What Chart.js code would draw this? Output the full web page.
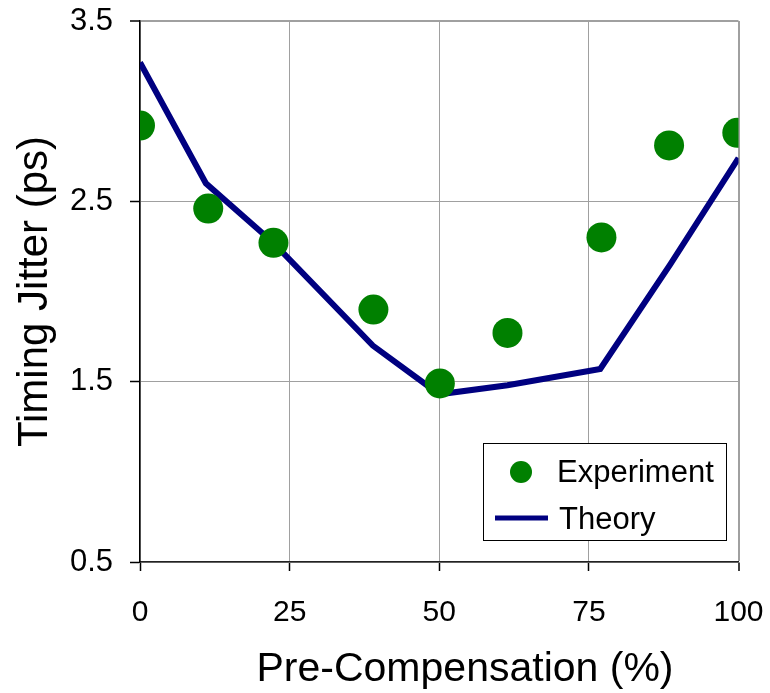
<!DOCTYPE html>
<html>
<head>
<meta charset="utf-8">
<script src="https://cdn.jsdelivr.net/npm/chart.js@4/dist/chart.umd.min.js"></script>
<style>
  html, body { margin: 0; padding: 0; background: #fff; }
  #wrap { width: 770px; height: 693px; }
</style>
</head>
<body>
<div id="wrap"><canvas id="jitterChart" width="770" height="693"></canvas></div>
<script>
// values
const precompExp = [0, 11.4, 22.3, 39.0, 50.1, 61.4, 77.1, 88.4, 99.8];
const jitterExp = [2.92, 2.46, 2.27, 1.90, 1.49, 1.77, 2.30, 2.81, 2.88];
const precompTheory = [0, 11.0, 22.3, 38.9, 50.0, 61.4, 76.9, 88.6, 100];
const jitterTheory = [3.27, 2.60, 2.27, 1.70, 1.43, 1.48, 1.57, 2.15, 2.74];
const xTicks = [0, 25, 50, 75, 100];
const yTicks = [0.5, 1.5, 2.5, 3.5];
const seriesNames = ["Experiment", "Theory"];

const FONT = "'Liberation Sans', Arial, sans-serif";

function toPoints(xs, ys) {
    return xs.map((x, i) => ({ x: x, y: ys[i] }));
}

// no extra room for overflowing tick labels, layout padding decides the plot box
function noOverflow(scale) {
    scale.paddingTop = 0;
    scale.paddingBottom = 0;
    scale.paddingLeft = 0;
    scale.paddingRight = 0;
}

// boxed legend inside the plot, lower right
const boxLegend = {
    id: "boxLegend",
    afterDatasetsDraw(chart) {
        const ctx = chart.ctx;
        const ds = chart.data.datasets;
        ctx.save();
        ctx.fillStyle = "#fff";
        ctx.fillRect(483, 443, 244, 98);
        ctx.strokeStyle = "#000";
        ctx.lineWidth = 1;
        ctx.strokeRect(483.5, 443.5, 243, 97);

        ctx.fillStyle = ds[0].backgroundColor;
        ctx.beginPath();
        ctx.arc(521, 472, 11, 0, Math.PI * 2);
        ctx.fill();

        ctx.strokeStyle = ds[1].borderColor;
        ctx.lineWidth = 5;
        ctx.beginPath();
        ctx.moveTo(495, 518);
        ctx.lineTo(548, 518);
        ctx.stroke();

        ctx.fillStyle = "#000";
        ctx.font = "31px " + FONT;
        ctx.textAlign = "left";
        ctx.textBaseline = "middle";
        ctx.fillText(ds[0].label, 557, 473);
        ctx.fillText(ds[1].label, 559, 520);
        ctx.restore();
    }
};

// x axis title, drawn a little right of the plot centre as in the reference
const xTitle = {
    id: "xTitle",
    afterDraw(chart) {
        const ctx = chart.ctx;
        ctx.save();
        ctx.fillStyle = "#000";
        ctx.font = "41px " + FONT;
        ctx.textAlign = "center";
        ctx.textBaseline = "middle";
        ctx.fillText("Pre-Compensation (%)", 465, 670);
        ctx.restore();
    }
};

const ctx = document.getElementById("jitterChart").getContext("2d");
new Chart(ctx, {
    type: "scatter",
    data: {
        datasets: [
            {
                label: seriesNames[0],
                data: toPoints(precompExp, jitterExp),
                backgroundColor: "#008000",
                borderColor: "#008000",
                borderWidth: 0,
                pointRadius: 15,
                showLine: false,
                order: 1
            },
            {
                label: seriesNames[1],
                data: toPoints(precompTheory, jitterTheory),
                borderColor: "#000080",
                backgroundColor: "#000080",
                borderWidth: 6,
                pointRadius: 0,
                showLine: true,
                tension: 0,
                order: 2
            }
        ]
    },
    options: {
        responsive: false,
        animation: false,
        devicePixelRatio: 1,
        layout: { padding: { left: 0, top: 21, right: 31.5, bottom: 0 } },
        plugins: {
            legend: { display: false },
            tooltip: { enabled: false }
        },
        scales: {
            x: {
                type: "linear",
                min: 0,
                max: 100,
                afterBuildTicks: (scale) => { scale.ticks = xTicks.map(v => ({ value: v })); },
                afterFit: (scale) => { scale.height = 131; noOverflow(scale); },
                ticks: {
                    color: "#000",
                    font: { family: FONT, size: 30 },
                    padding: 24,
                    maxRotation: 0
                },
                grid: {
                    color: "#a0a0a0",
                    lineWidth: (c) => (c.tick && c.tick.value === 100 ? 2 : 1),
                    tickColor: "#000",
                    tickLength: 9,
                    tickWidth: 1.5
                },
                border: { color: "#222", width: 1.5 },
                title: { display: false }
            },
            y: {
                type: "linear",
                min: 0.5,
                max: 3.5,
                afterBuildTicks: (scale) => { scale.ticks = yTicks.map(v => ({ value: v })); },
                afterFit: (scale) => { scale.width = 140; noOverflow(scale); },
                ticks: {
                    color: "#000",
                    font: { family: FONT, size: 31 },
                    padding: 17,
                    callback: (v) => v.toFixed(1)
                },
                grid: {
                    color: "#a0a0a0",
                    lineWidth: (c) => (c.tick && c.tick.value === 3.5 ? 2 : 1),
                    tickColor: "#000",
                    tickLength: 10,
                    tickWidth: 1.5
                },
                border: { color: "#000", width: 1.5 },
                title: {
                    display: true,
                    text: "Timing Jitter (ps)",
                    color: "#000",
                    font: { family: FONT, size: 42 },
                    padding: { top: 10, bottom: 0 }
                }
            }
        }
    },
    plugins: [boxLegend, xTitle]
});
</script>
</body>
</html>
